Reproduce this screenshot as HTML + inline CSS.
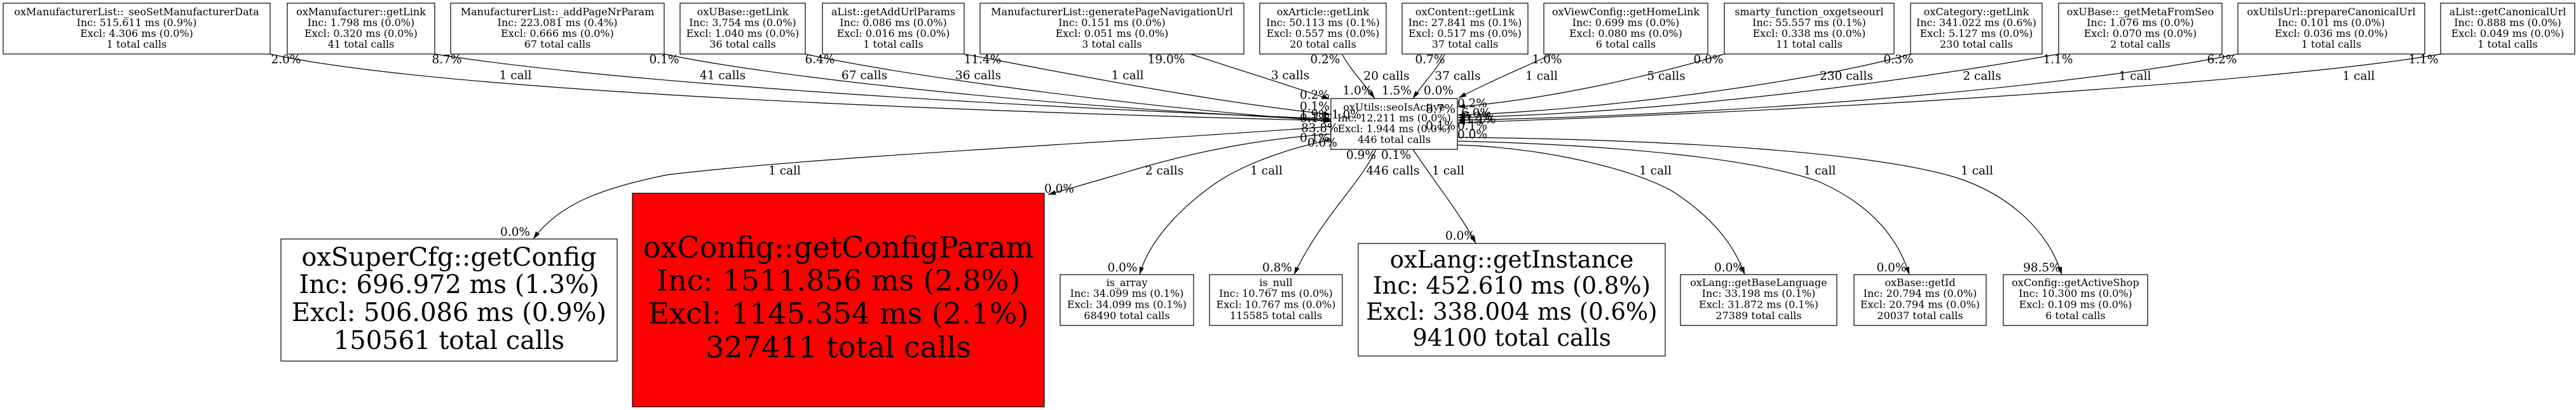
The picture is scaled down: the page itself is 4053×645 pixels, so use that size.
<!DOCTYPE html>
<html><head><meta charset="utf-8"><style>
html,body{margin:0;padding:0;background:#fff;}
svg{display:block;}
text{font-family:"DejaVu Serif","Liberation Serif",serif;fill:#000;}
.n{font-size:16px;text-anchor:middle;}
.l{font-size:18.5px;text-anchor:middle;}
.e{fill:none;stroke:#000;stroke-width:1.2;marker-end:url(#ah);}
.b{fill:#fff;stroke:#000;stroke-width:1.2;}
</style></head><body>
<svg width="4053" height="645" viewBox="0 0 4053 645" xmlns="http://www.w3.org/2000/svg">
<defs>
<marker id="ah" markerUnits="userSpaceOnUse" markerWidth="13" markerHeight="9" refX="12" refY="4.5" orient="auto">
<path d="M0,0.8 L12,4.5 L0,8.2 z" fill="#000"/>
</marker>
</defs>
<rect width="4053" height="645" fill="#fff"/>

<!-- top nodes -->
<rect class="b" x="5" y="5" width="420" height="80"/>
<text class="n" x="215" y="23.8">oxManufacturerList::_seoSetManufacturerData</text>
<text class="n" x="215" y="40.8">Inc: 515.611 ms (0.9%)</text>
<text class="n" x="215" y="57.8">Excl: 4.306 ms (0.0%)</text>
<text class="n" x="215" y="74.8">1 total calls</text>

<rect class="b" x="452" y="5" width="232" height="80"/>
<text class="n" x="568" y="23.8">oxManufacturer::getLink</text>
<text class="n" x="568" y="40.8">Inc: 1.798 ms (0.0%)</text>
<text class="n" x="568" y="57.8">Excl: 0.320 ms (0.0%)</text>
<text class="n" x="568" y="74.8">41 total calls</text>

<rect class="b" x="709" y="5" width="336" height="80"/>
<text class="n" x="877" y="23.8">ManufacturerList::_addPageNrParam</text>
<text class="n" x="877" y="40.8">Inc: 223.081 ms (0.4%)</text>
<text class="n" x="877" y="57.8">Excl: 0.666 ms (0.0%)</text>
<text class="n" x="877" y="74.8">67 total calls</text>

<rect class="b" x="1070" y="5" width="197" height="80"/>
<text class="n" x="1168.5" y="23.8">oxUBase::getLink</text>
<text class="n" x="1168.5" y="40.8">Inc: 3.754 ms (0.0%)</text>
<text class="n" x="1168.5" y="57.8">Excl: 1.040 ms (0.0%)</text>
<text class="n" x="1168.5" y="74.8">36 total calls</text>

<rect class="b" x="1294" y="5" width="223" height="80"/>
<text class="n" x="1405.5" y="23.8">aList::getAddUrlParams</text>
<text class="n" x="1405.5" y="40.8">Inc: 0.086 ms (0.0%)</text>
<text class="n" x="1405.5" y="57.8">Excl: 0.016 ms (0.0%)</text>
<text class="n" x="1405.5" y="74.8">1 total calls</text>

<rect class="b" x="1542" y="5" width="415" height="80"/>
<text class="n" x="1749.5" y="23.8">ManufacturerList::generatePageNavigationUrl</text>
<text class="n" x="1749.5" y="40.8">Inc: 0.151 ms (0.0%)</text>
<text class="n" x="1749.5" y="57.8">Excl: 0.051 ms (0.0%)</text>
<text class="n" x="1749.5" y="74.8">3 total calls</text>

<rect class="b" x="1982" y="5" width="199" height="80"/>
<text class="n" x="2081.5" y="23.8">oxArticle::getLink</text>
<text class="n" x="2081.5" y="40.8">Inc: 50.113 ms (0.1%)</text>
<text class="n" x="2081.5" y="57.8">Excl: 0.557 ms (0.0%)</text>
<text class="n" x="2081.5" y="74.8">20 total calls</text>

<rect class="b" x="2206" y="5" width="198" height="80"/>
<text class="n" x="2305" y="23.8">oxContent::getLink</text>
<text class="n" x="2305" y="40.8">Inc: 27.841 ms (0.1%)</text>
<text class="n" x="2305" y="57.8">Excl: 0.517 ms (0.0%)</text>
<text class="n" x="2305" y="74.8">37 total calls</text>

<rect class="b" x="2429" y="5" width="258" height="80"/>
<text class="n" x="2558" y="23.8">oxViewConfig::getHomeLink</text>
<text class="n" x="2558" y="40.8">Inc: 0.699 ms (0.0%)</text>
<text class="n" x="2558" y="57.8">Excl: 0.080 ms (0.0%)</text>
<text class="n" x="2558" y="74.8">6 total calls</text>

<rect class="b" x="2713" y="5" width="267" height="80"/>
<text class="n" x="2846.5" y="23.8">smarty_function_oxgetseourl</text>
<text class="n" x="2846.5" y="40.8">Inc: 55.557 ms (0.1%)</text>
<text class="n" x="2846.5" y="57.8">Excl: 0.338 ms (0.0%)</text>
<text class="n" x="2846.5" y="74.8">11 total calls</text>

<rect class="b" x="3006" y="5" width="207" height="80"/>
<text class="n" x="3109.5" y="23.8">oxCategory::getLink</text>
<text class="n" x="3109.5" y="40.8">Inc: 341.022 ms (0.6%)</text>
<text class="n" x="3109.5" y="57.8">Excl: 5.127 ms (0.0%)</text>
<text class="n" x="3109.5" y="74.8">230 total calls</text>

<rect class="b" x="3239" y="5" width="257" height="80"/>
<text class="n" x="3367.5" y="23.8">oxUBase::_getMetaFromSeo</text>
<text class="n" x="3367.5" y="40.8">Inc: 1.076 ms (0.0%)</text>
<text class="n" x="3367.5" y="57.8">Excl: 0.070 ms (0.0%)</text>
<text class="n" x="3367.5" y="74.8">2 total calls</text>

<rect class="b" x="3521" y="5" width="294" height="80"/>
<text class="n" x="3668" y="23.8">oxUtilsUrl::prepareCanonicalUrl</text>
<text class="n" x="3668" y="40.8">Inc: 0.101 ms (0.0%)</text>
<text class="n" x="3668" y="57.8">Excl: 0.036 ms (0.0%)</text>
<text class="n" x="3668" y="74.8">1 total calls</text>

<rect class="b" x="3840" y="5" width="211" height="80"/>
<text class="n" x="3945.5" y="23.8">aList::getCanonicalUrl</text>
<text class="n" x="3945.5" y="40.8">Inc: 0.888 ms (0.0%)</text>
<text class="n" x="3945.5" y="57.8">Excl: 0.049 ms (0.0%)</text>
<text class="n" x="3945.5" y="74.8">1 total calls</text>

<!-- central node -->
<rect class="b" x="2094" y="155" width="199" height="80"/>
<text class="n" x="2193.5" y="173.8">oxUtils::seoIsActive</text>
<text class="n" x="2193.5" y="190.8">Inc: 12.211 ms (0.0%)</text>
<text class="n" x="2193.5" y="207.8">Excl: 1.944 ms (0.0%)</text>
<text class="n" x="2193.5" y="224.8">446 total calls</text>

<!-- bottom nodes -->
<rect class="b" x="442" y="376" width="529" height="192"/>
<text x="706.5" y="418" font-size="40" text-anchor="middle">oxSuperCfg::getConfig</text>
<text x="706.5" y="461" font-size="40" text-anchor="middle">Inc: 696.972 ms (1.3%)</text>
<text x="706.5" y="505" font-size="40" text-anchor="middle">Excl: 506.086 ms (0.9%)</text>
<text x="706.5" y="549" font-size="40" text-anchor="middle">150561 total calls</text>

<rect x="995" y="304" width="648" height="336" fill="#ff0000" stroke="#000" stroke-width="1.2"/>
<text x="1319" y="405" font-size="46" text-anchor="middle">oxConfig::getConfigParam</text>
<text x="1319" y="457" font-size="46" text-anchor="middle">Inc: 1511.856 ms (2.8%)</text>
<text x="1319" y="509" font-size="46" text-anchor="middle">Excl: 1145.354 ms (2.1%)</text>
<text x="1319" y="562" font-size="46" text-anchor="middle">327411 total calls</text>

<rect class="b" x="1668" y="432" width="210" height="80"/>
<text class="n" x="1773" y="450">is_array</text>
<text class="n" x="1773" y="467">Inc: 34.099 ms (0.1%)</text>
<text class="n" x="1773" y="484.5">Excl: 34.099 ms (0.1%)</text>
<text class="n" x="1773" y="502">68490 total calls</text>

<rect class="b" x="1903" y="432" width="209" height="80"/>
<text class="n" x="2007.5" y="450">is_null</text>
<text class="n" x="2007.5" y="467">Inc: 10.767 ms (0.0%)</text>
<text class="n" x="2007.5" y="484.5">Excl: 10.767 ms (0.0%)</text>
<text class="n" x="2007.5" y="502">115585 total calls</text>

<rect class="b" x="2137" y="383" width="483" height="177"/>
<text x="2378.5" y="421" font-size="37" text-anchor="middle">oxLang::getInstance</text>
<text x="2378.5" y="462" font-size="37" text-anchor="middle">Inc: 452.610 ms (0.8%)</text>
<text x="2378.5" y="503" font-size="37" text-anchor="middle">Excl: 338.004 ms (0.6%)</text>
<text x="2378.5" y="544" font-size="37" text-anchor="middle">94100 total calls</text>

<rect class="b" x="2644" y="432" width="246" height="80"/>
<text class="n" x="2767" y="450">oxLang::getBaseLanguage</text>
<text class="n" x="2767" y="467">Inc: 33.198 ms (0.1%)</text>
<text class="n" x="2767" y="484.5">Excl: 31.872 ms (0.1%)</text>
<text class="n" x="2767" y="502">27389 total calls</text>

<rect class="b" x="2917" y="432" width="208" height="80"/>
<text class="n" x="3021" y="450">oxBase::getId</text>
<text class="n" x="3021" y="467">Inc: 20.794 ms (0.0%)</text>
<text class="n" x="3021" y="484.5">Excl: 20.794 ms (0.0%)</text>
<text class="n" x="3021" y="502">20037 total calls</text>

<rect class="b" x="3152" y="432" width="227" height="80"/>
<text class="n" x="3265.5" y="450">oxConfig::getActiveShop</text>
<text class="n" x="3265.5" y="467">Inc: 10.300 ms (0.0%)</text>
<text class="n" x="3265.5" y="484.5">Excl: 0.109 ms (0.0%)</text>
<text class="n" x="3265.5" y="502">6 total calls</text>

<!-- incoming edges from top-left -->
<path class="e" d="M425,85 C650,135 1300,170 2094,190"/>
<path class="e" d="M684,85 C900,120 1400,160 2094,187"/>
<path class="e" d="M1045,85 C1200,118 1600,165 2094,189"/>
<path class="e" d="M1267,85 C1400,115 1750,165 2094,191"/>
<path class="e" d="M1517,85 C1650,110 1900,160 2094,180"/>
<path class="e" d="M1873,85 C1950,110 2030,135 2092,156"/>
<!-- incoming from top -->
<path class="e" d="M2112,86 C2125,110 2145,130 2163,155"/>
<path class="e" d="M2273,86 C2260,110 2240,130 2223,155"/>
<path class="e" d="M2440,86 C2400,105 2340,130 2295,154"/>
<!-- incoming from top-right -->
<path class="e" d="M2713,85 C2580,125 2420,158 2293,168"/>
<path class="e" d="M3006,85 C2850,130 2500,175 2293,181"/>
<path class="e" d="M3239,85 C3100,110 2700,175 2293,185"/>
<path class="e" d="M3521,85 C3300,130 2800,180 2293,189"/>
<path class="e" d="M3840,85 C3650,120 3000,170 2293,193"/>

<!-- outgoing edges -->
<path class="e" d="M2094,199 C1750,225 1300,245 1050,275 C950,295 880,320 839,376"/>
<path class="e" d="M2094,211 C1980,218 1880,240 1802,262 C1740,280 1690,295 1649,306"/>
<path class="e" d="M2094,220 C2040,230 1960,255 1910,290 C1840,340 1805,390 1793,432"/>
<path class="e" d="M2165,235 C2140,290 2080,340 2036,432"/>
<path class="e" d="M2223,235 C2260,290 2300,340 2322,383"/>
<path class="e" d="M2293,228 C2420,232 2560,262 2630,300 C2700,345 2730,390 2745,432"/>
<path class="e" d="M2293,222 C2550,228 2760,250 2860,285 C2940,320 2985,370 3004,432"/>
<path class="e" d="M2293,216 C2650,220 2950,240 3080,280 C3170,310 3225,370 3244,432"/>

<!-- tail labels top row -->
<text class="l" x="450" y="99.5">2.0%</text>
<text class="l" x="703" y="99.5">8.7%</text>
<text class="l" x="1045" y="99.5">0.1%</text>
<text class="l" x="1290" y="99.5">6.4%</text>
<text class="l" x="1546" y="99.5">11.4%</text>
<text class="l" x="1835" y="99.5">19.0%</text>
<text class="l" x="2085" y="99.5">0.2%</text>
<text class="l" x="2250" y="99.5">0.7%</text>
<text class="l" x="2434" y="99.5">1.0%</text>
<text class="l" x="2688" y="99.5">0.0%</text>
<text class="l" x="2987" y="99.5">0.3%</text>
<text class="l" x="3238" y="99.5">1.1%</text>
<text class="l" x="3496" y="99.5">6.2%</text>
<text class="l" x="3813" y="99.5">1.1%</text>

<!-- mid labels top edges -->
<text class="l" x="811" y="124.5">1 call</text>
<text class="l" x="1137" y="124.5">41 calls</text>
<text class="l" x="1360" y="124.5">67 calls</text>
<text class="l" x="1539" y="124.5">36 calls</text>
<text class="l" x="1774" y="124.5">1 call</text>
<text class="l" x="2030" y="124.5">3 calls</text>
<text class="l" x="2181.5" y="125.5">20 calls</text>
<text class="l" x="2293.5" y="125.5">37 calls</text>
<text class="l" x="2425.5" y="125.5">1 call</text>
<text class="l" x="2621.5" y="125.5">5 calls</text>
<text class="l" x="2905" y="125.5">230 calls</text>
<text class="l" x="3118.5" y="125.5">2 calls</text>
<text class="l" x="3359" y="125.5">1 call</text>
<text class="l" x="3711" y="125.5">1 call</text>

<!-- labels around central node -->
<text class="l" x="2136" y="148.5">1.0%</text>
<text class="l" x="2197.5" y="148.5">1.5%</text>
<text class="l" x="2263.5" y="148.5">0.0%</text>
<text class="l" x="2068.5" y="155.5">0.2%</text>
<text class="l" x="2068.5" y="173.5">0.1%</text>
<text class="l" x="2068.5" y="186.5">1.9%</text>
<text class="l" x="2118.5" y="186.5">1.0%</text>
<text class="l" x="2068.5" y="192">0.1%</text>
<text class="l" x="2076.5" y="207.5">83.8%</text>
<text class="l" x="2068.5" y="223">0.1%</text>
<text class="l" x="2080.5" y="230.5">0.0%</text>
<text class="l" x="2316.5" y="168.5">0.2%</text>
<text class="l" x="2266.5" y="177.5">8.7%</text>
<text class="l" x="2322.5" y="183.5">6.0%</text>
<text class="l" x="2325" y="189.5">6.2%</text>
<text class="l" x="2330" y="194">1.1%</text>
<text class="l" x="2266.5" y="204">0.1%</text>
<text class="l" x="2316.5" y="204">0.1%</text>
<text class="l" x="2316.5" y="217.5">0.0%</text>
<text class="l" x="2141.5" y="250">0.9%</text>
<text class="l" x="2196.5" y="250">0.1%</text>

<!-- mid labels bottom edges -->
<text class="l" x="1234.5" y="274.5">1 call</text>
<text class="l" x="1832" y="274.5">2 calls</text>
<text class="l" x="1992.5" y="274.5">1 call</text>
<text class="l" x="2191.5" y="274.5">446 calls</text>
<text class="l" x="2278.5" y="274.5">1 call</text>
<text class="l" x="2604.5" y="274.5">1 call</text>
<text class="l" x="2863" y="274.5">1 call</text>
<text class="l" x="3110.5" y="274.5">1 call</text>

<!-- head labels bottom -->
<text class="l" x="810.5" y="371">0.0%</text>
<text class="l" x="1666.5" y="303">0.0%</text>
<text class="l" x="1766" y="427">0.0%</text>
<text class="l" x="2009.5" y="427">0.8%</text>
<text class="l" x="2297.5" y="377">0.0%</text>
<text class="l" x="2720.5" y="427">0.0%</text>
<text class="l" x="2976" y="427">0.0%</text>
<text class="l" x="3212.5" y="427">98.5%</text>
</svg>
</body></html>
